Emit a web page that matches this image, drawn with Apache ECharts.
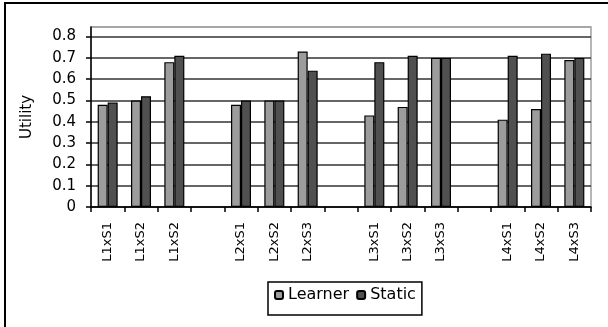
<!DOCTYPE html>
<html>
<head>
<meta charset="utf-8">
<script src="https://cdn.jsdelivr.net/npm/echarts@6/dist/echarts.min.js"></script>
<style>
  html, body { margin: 0; padding: 0; background: #fff; }
  #chart { width: 608px; height: 327px; }
</style>
</head>
<body>
<div id="chart"></div>
<script>
// Learner/static combinations; blank slots separate the four learner groups
const categories = [
  'L1xS1', 'L1xS2', 'L1xS2', '',
  'L2xS1', 'L2xS2', 'L2xS3', '',
  'L3xS1', 'L3xS2', 'L3xS3', '',
  'L4xS1', 'L4xS2', 'L4xS3'
];
const learnerValues = [0.48, 0.50, 0.68, null, 0.48, 0.50, 0.73, null, 0.43, 0.47, 0.70, null, 0.41, 0.46, 0.69];
const staticValues  = [0.49, 0.52, 0.71, null, 0.50, 0.50, 0.64, null, 0.68, 0.71, 0.70, null, 0.71, 0.72, 0.70];
const yTicks = [0, 0.1, 0.2, 0.3, 0.4, 0.5, 0.6, 0.7, 0.8];

const FONT = 'DejaVu Sans, Verdana, sans-serif';
const chart = echarts.init(document.getElementById('chart'), null, { renderer: 'canvas' });

// one dark line per tick, the top edge of the plot in grey
const splitColors = yTicks.map(() => '#333').concat(['#a0a0a0']);

chart.setOption({
  animation: false,
  backgroundColor: '#fff',
  textStyle: { fontFamily: FONT },
  graphic: [{
    type: 'rect',
    shape: { x: 5, y: 3, width: 800, height: 600 },
    style: { fill: 'none', stroke: '#000', lineWidth: 2 },
    silent: true
  }],
  grid: {
    left: 91, right: 17, top: 27, bottom: 120,
    show: true, borderColor: '#a0a0a0', borderWidth: 1.5, backgroundColor: 'transparent'
  },
  legend: {
    data: ['Learner', 'Static'],
    left: 268, top: 282,
    padding: [5, 6, 12, 6],
    itemGap: 7,
    itemWidth: 8, itemHeight: 8,
    borderColor: '#000', borderWidth: 1.5,
    textStyle: { fontFamily: FONT, fontSize: 16, color: '#000' }
  },
  xAxis: {
    type: 'category',
    data: categories,
    axisLine: { lineStyle: { color: '#000', width: 1.5 } },
    axisTick: { show: true, length: 5, lineStyle: { color: '#000', width: 1.5 } },
    axisLabel: {
      interval: 0, rotate: 90, margin: 15,
      fontFamily: FONT, fontSize: 13, color: '#000'
    },
    splitLine: { show: false }
  },
  yAxis: {
    type: 'value',
    min: 0, max: 0.845, interval: 0.1,
    name: 'Utility',
    nameLocation: 'middle',
    nameRotate: 90,
    nameGap: 56,
    nameTextStyle: { fontFamily: FONT, fontSize: 15, color: '#000' },
    axisLine: { show: true, lineStyle: { color: '#000', width: 1.5 } },
    axisTick: { show: true, length: 5, lineStyle: { color: '#000', width: 1.5 } },
    axisLabel: {
      margin: 15, showMaxLabel: false,
      fontFamily: FONT, fontSize: 15, color: '#000',
      formatter: v => (Math.abs(v * 10 - Math.round(v * 10)) < 1e-6) ? String(Math.round(v * 10) / 10) : ''
    },
    splitLine: { show: true, lineStyle: { color: splitColors, width: 1.5 } }
  },
  series: [
    {
      name: 'Learner', type: 'bar', data: learnerValues,
      barWidth: 10, barGap: '0%',
      itemStyle: { color: '#9c9c9c', borderColor: '#000', borderWidth: 1.2 }
    },
    {
      name: 'Static', type: 'bar', data: staticValues,
      barWidth: 10, barGap: '0%',
      itemStyle: { color: '#505050', borderColor: '#000', borderWidth: 1.2 }
    }
  ]
});
</script>
</body>
</html>
